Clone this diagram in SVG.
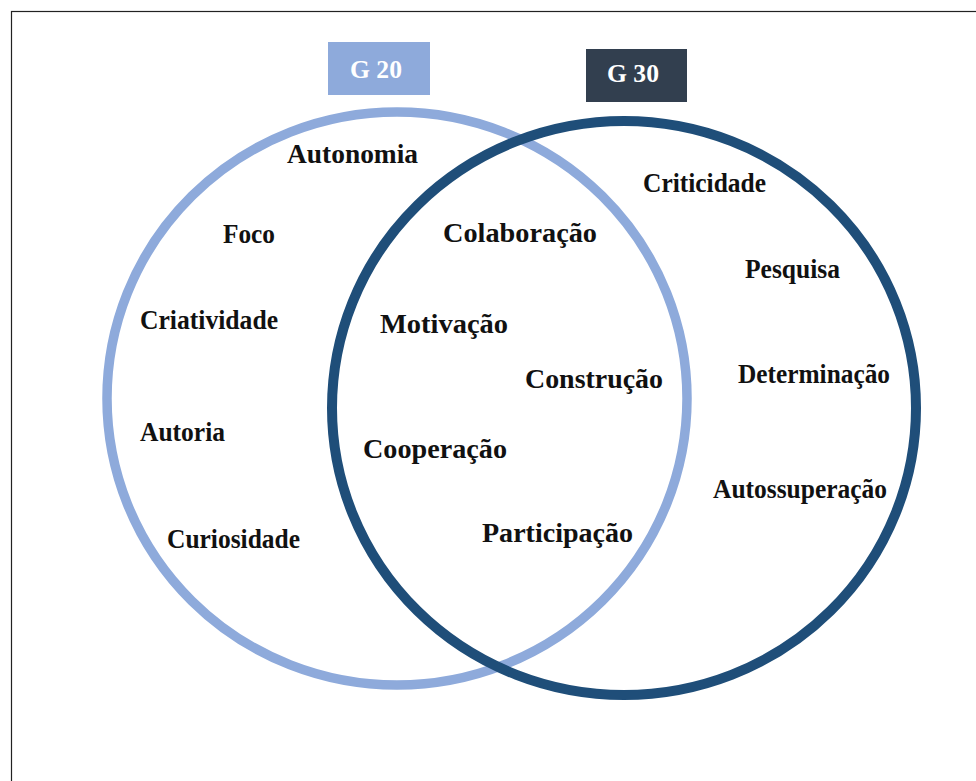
<svg xmlns="http://www.w3.org/2000/svg" width="976" height="781" viewBox="0 0 976 781">
<style>
.lbl{font-family:"Liberation Serif","Times New Roman",serif;font-weight:bold;font-size:27px;fill:#111}
.hd{font-family:"Liberation Serif","Times New Roman",serif;font-weight:bold;font-size:25px;fill:#fff}
.set{fill:none}
</style>
<rect x="11.5" y="11.5" width="980" height="790" fill="#fff" stroke="#222" stroke-width="1.2"/>
<g id="connectors">
<ellipse id="set-g20" class="set" cx="397" cy="398.5" rx="290" ry="286.5" stroke="#8eaadb" stroke-width="9.5"/>
<ellipse id="set-g30" class="set" cx="624" cy="408" rx="292" ry="287" stroke="#1f4e79" stroke-width="10"/>
</g>
<g id="g20">
<rect x="328" y="42" width="102" height="53" fill="#8eaadb"/>
<text class="hd" x="350" y="78" textLength="52" lengthAdjust="spacingAndGlyphs">G 20</text>
</g>
<g id="g30">
<rect x="586" y="49" width="101" height="53" fill="#323f4f"/>
<text class="hd" x="607" y="82" textLength="52" lengthAdjust="spacingAndGlyphs">G 30</text>
</g>
<g id="autonomia"><text class="lbl" x="287" y="163" textLength="131" lengthAdjust="spacingAndGlyphs">Autonomia</text></g>
<g id="foco"><text class="lbl" x="223" y="243" textLength="52" lengthAdjust="spacingAndGlyphs">Foco</text></g>
<g id="criatividade"><text class="lbl" x="140" y="329" textLength="138" lengthAdjust="spacingAndGlyphs">Criatividade</text></g>
<g id="autoria"><text class="lbl" x="140" y="441" textLength="85" lengthAdjust="spacingAndGlyphs">Autoria</text></g>
<g id="curiosidade"><text class="lbl" x="167" y="548" textLength="133" lengthAdjust="spacingAndGlyphs">Curiosidade</text></g>
<g id="colaboracao"><text class="lbl" x="443" y="242" textLength="154" lengthAdjust="spacingAndGlyphs">Colaboração</text></g>
<g id="motivacao"><text class="lbl" x="380" y="333" textLength="128" lengthAdjust="spacingAndGlyphs">Motivação</text></g>
<g id="construcao"><text class="lbl" x="525" y="388" textLength="138" lengthAdjust="spacingAndGlyphs">Construção</text></g>
<g id="cooperacao"><text class="lbl" x="363" y="458" textLength="144" lengthAdjust="spacingAndGlyphs">Cooperação</text></g>
<g id="participacao"><text class="lbl" x="482" y="542" textLength="151" lengthAdjust="spacingAndGlyphs">Participação</text></g>
<g id="criticidade"><text class="lbl" x="643" y="192" textLength="123" lengthAdjust="spacingAndGlyphs">Criticidade</text></g>
<g id="pesquisa"><text class="lbl" x="745" y="278" textLength="95" lengthAdjust="spacingAndGlyphs">Pesquisa</text></g>
<g id="determinacao"><text class="lbl" x="738" y="383" textLength="152" lengthAdjust="spacingAndGlyphs">Determinação</text></g>
<g id="autossuperacao"><text class="lbl" x="713" y="498" textLength="174" lengthAdjust="spacingAndGlyphs">Autossuperação</text></g>
</svg>
